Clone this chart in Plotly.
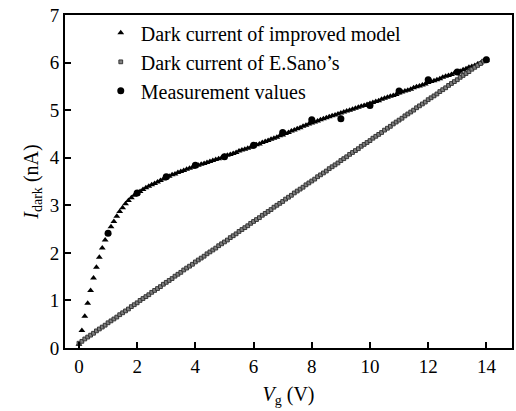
import plotly.graph_objects as go

# x grid for model curves (V)
vg_model = [round(i * 0.1, 1) for i in range(141)]

improved_model = [
    0.08, 0.37, 0.67, 0.94, 1.21, 1.47, 1.70, 1.91, 2.10, 2.27,
    2.42, 2.55, 2.66, 2.77, 2.87, 2.95, 3.03, 3.10, 3.16, 3.21,
    3.25, 3.29, 3.33, 3.37, 3.40, 3.43, 3.46, 3.49, 3.52, 3.55,
    3.59, 3.61, 3.64, 3.66, 3.69, 3.71, 3.73, 3.76, 3.78, 3.80,
    3.82, 3.84, 3.86, 3.88, 3.90, 3.92, 3.94, 3.96, 3.98, 4.00,
    4.03, 4.05, 4.07, 4.09, 4.11, 4.14, 4.16, 4.18, 4.20, 4.22,
    4.25, 4.27, 4.29, 4.32, 4.34, 4.36, 4.39, 4.41, 4.43, 4.46,
    4.48, 4.51, 4.53, 4.56, 4.58, 4.61, 4.63, 4.66, 4.68, 4.71,
    4.73, 4.75, 4.77, 4.80, 4.82, 4.84, 4.86, 4.88, 4.90, 4.92,
    4.94, 4.96, 4.98, 5.00, 5.02, 5.04, 5.06, 5.08, 5.10, 5.12,
    5.14, 5.16, 5.18, 5.20, 5.23, 5.25, 5.27, 5.29, 5.31, 5.33,
    5.36, 5.38, 5.40, 5.42, 5.44, 5.47, 5.49, 5.51, 5.53, 5.55,
    5.58, 5.60, 5.62, 5.64, 5.66, 5.69, 5.71, 5.73, 5.75, 5.78,
    5.80, 5.82, 5.85, 5.87, 5.90, 5.92, 5.94, 5.97, 5.99, 6.02,
    6.05,
]

sano_model = [
    0.10, 0.14, 0.19, 0.23, 0.27, 0.31, 0.36, 0.40, 0.44, 0.48,
    0.53, 0.57, 0.61, 0.65, 0.70, 0.74, 0.78, 0.82, 0.87, 0.91,
    0.95, 1.00, 1.04, 1.08, 1.12, 1.17, 1.21, 1.25, 1.29, 1.34,
    1.38, 1.42, 1.46, 1.51, 1.55, 1.59, 1.64, 1.68, 1.72, 1.76,
    1.81, 1.85, 1.89, 1.93, 1.98, 2.02, 2.06, 2.10, 2.15, 2.19,
    2.23, 2.27, 2.32, 2.36, 2.40, 2.45, 2.49, 2.53, 2.57, 2.62,
    2.66, 2.70, 2.74, 2.79, 2.83, 2.87, 2.91, 2.96, 3.00, 3.04,
    3.08, 3.13, 3.17, 3.21, 3.26, 3.30, 3.34, 3.38, 3.43, 3.47,
    3.51, 3.55, 3.60, 3.64, 3.68, 3.72, 3.77, 3.81, 3.85, 3.89,
    3.94, 3.98, 4.02, 4.07, 4.11, 4.15, 4.19, 4.24, 4.28, 4.32,
    4.36, 4.41, 4.45, 4.49, 4.53, 4.58, 4.62, 4.66, 4.71, 4.75,
    4.79, 4.83, 4.88, 4.92, 4.96, 5.00, 5.05, 5.09, 5.13, 5.17,
    5.22, 5.26, 5.30, 5.34, 5.39, 5.43, 5.47, 5.52, 5.56, 5.60,
    5.64, 5.69, 5.73, 5.77, 5.81, 5.86, 5.90, 5.94, 5.98, 6.03,
    6.07,
]

vg_meas = [1, 2, 3, 4, 5, 6, 7, 8, 9, 10, 11, 12, 13, 14]
meas_values = [2.41, 3.26, 3.60, 3.84, 4.02, 4.26, 4.53, 4.80, 4.82, 5.10, 5.40, 5.64, 5.80, 6.06]

x_ticks = [0, 2, 4, 6, 8, 10, 12, 14]
y_ticks = [0, 1, 2, 3, 4, 5, 6, 7]

FONT = "Liberation Serif, Times New Roman, serif"

fig = go.Figure()
fig.add_trace(go.Scatter(
    x=vg_model, y=improved_model, mode="markers",
    name="Dark current of improved model",
    marker=dict(symbol="triangle-up", size=6, color="black", line=dict(width=0)),
))
fig.add_trace(go.Scatter(
    x=vg_model, y=sano_model, mode="markers",
    name="Dark current of E.Sano\u2019s",
    marker=dict(symbol="square", size=3.8, color="#808080", line=dict(width=0.9, color="#2a2a2a")),
))
fig.add_trace(go.Scatter(
    x=vg_meas, y=meas_values, mode="markers",
    name="Measurement values",
    marker=dict(symbol="circle", size=7, color="black"),
))

fig.update_layout(
    width=516, height=411,
    margin=dict(l=65, r=4, t=15, b=63),
    paper_bgcolor="white", plot_bgcolor="white",
    font=dict(family=FONT, size=19, color="black"),
    showlegend=True,
    legend=dict(
        x=0.08, y=1.005, xanchor="left", yanchor="top",
        bgcolor="rgba(0,0,0,0)", font=dict(family=FONT, size=20),
        itemsizing="trace", tracegroupgap=0, itemwidth=30,
    ),
)
fig.update_xaxes(
    range=[-0.48, 14.88], tickvals=x_ticks, ticktext=[str(v) for v in x_ticks],
    ticks="inside", ticklen=6, tickwidth=1.5, tickcolor="black",
    showline=True, linewidth=1.8, linecolor="black", mirror=True,
    showgrid=False, zeroline=False, automargin=False,
    title=dict(text="<i>V</i><sub>g</sub> (V)", font=dict(family=FONT, size=20), standoff=11),
    tickfont=dict(family=FONT, size=19),
)
fig.update_yaxes(
    range=[0, 7], tickvals=y_ticks, ticktext=[str(v) for v in y_ticks],
    ticks="inside", ticklen=6, tickwidth=1.5, tickcolor="black",
    showline=True, linewidth=1.8, linecolor="black", mirror=True,
    showgrid=False, zeroline=False, automargin=False,
    title=dict(text="<i>I</i><sub>dark</sub> (nA)", font=dict(family=FONT, size=20), standoff=6),
    tickfont=dict(family=FONT, size=19),
)

fig.write_html(
    "out.html",
    config={"displayModeBar": False},
    post_script="document.body.style.margin='0';document.body.style.overflow='hidden';",
)
